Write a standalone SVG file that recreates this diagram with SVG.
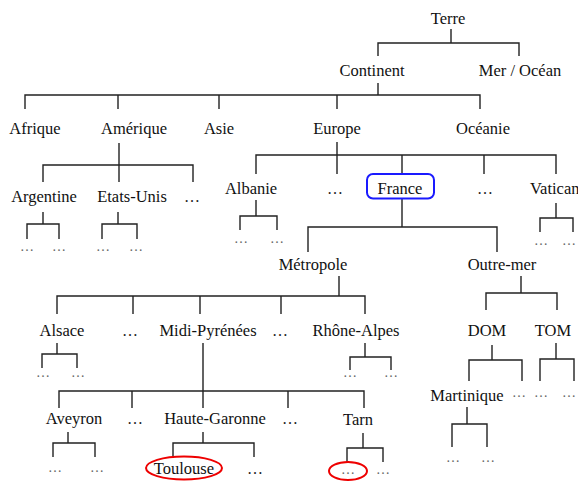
<svg xmlns="http://www.w3.org/2000/svg" width="578" height="483" viewBox="0 0 578 483">
<style>
.c{fill:none;stroke:#222;stroke-width:1.4}
.t{font-family:"Liberation Serif","Times New Roman",serif;font-size:16.5px;fill:#111;text-anchor:middle}
.d{font-family:"Liberation Serif","Times New Roman",serif;font-size:14px;fill:#666;text-anchor:middle}
.e{font-family:"Liberation Serif","Times New Roman",serif;font-size:16px;fill:#222;text-anchor:middle}
</style>
<rect width="578" height="483" fill="#fff"/>
<g id="connectors">
<path class="c" d="M451,29V43M378,56V43H519V56"/>
<path class="c" d="M378,83V95M25,109V95H480V109M118,95V109M219,95V109M337,95V109"/>
<path class="c" d="M119,143V182M43,182V165H193V182"/>
<path class="c" d="M43,212V224M27,239V224H59V239"/>
<path class="c" d="M118,212V224M102,239V224H137V239"/>
<path class="c" d="M337,142V174M256,174V155H556V174M402,155V174M484,155V174"/>
<path class="c" d="M256,200V216M240,230V216H277V230"/>
<path class="c" d="M556,203V218M540,232V218H573V232"/>
<path class="c" d="M402,199V227M308,252V227H497V252"/>
<path class="c" d="M339,276V296M57,314V296H365V314M133,296V314M200,296V314M281,296V314"/>
<path class="c" d="M57,343V354M42,368V354H77V368"/>
<path class="c" d="M365,343V357M350,370V357H391V370"/>
<path class="c" d="M521,276V293M486,310V293H557V310"/>
<path class="c" d="M492,345V360M469,381V360H522V381"/>
<path class="c" d="M556,343V359M540,381V359H574V381"/>
<path class="c" d="M467,407V424M452,447V424H487V447"/>
<path class="c" d="M203,343V408M59,408V391H364V408M132,391V408M288,391V408"/>
<path class="c" d="M68,432V443M53,457V443H95V457"/>
<path class="c" d="M203,432V443M173,457V443H254V457"/>
<path class="c" d="M363,433V448M347,462V448H383V462"/>
</g>
<g id="terre"><text class="t" x="448" y="24">Terre</text></g>
<g id="continent"><text class="t" x="372" y="76">Continent</text></g>
<g id="mer"><text class="t" x="520" y="76">Mer / Océan</text></g>
<g id="afrique"><text class="t" x="35" y="134">Afrique</text></g>
<g id="amerique"><text class="t" x="134" y="134">Amérique</text></g>
<g id="asie"><text class="t" x="219" y="134">Asie</text></g>
<g id="europe"><text class="t" x="337" y="134">Europe</text></g>
<g id="oceanie"><text class="t" x="483" y="134">Océanie</text></g>
<g id="argentine"><text class="t" x="44" y="202">Argentine</text></g>
<g id="etatsunis"><text class="t" x="132" y="202">Etats-Unis</text></g>
<g id="amerique-etc"><text class="e" x="192" y="202">…</text></g>
<g id="arg-1"><text class="d" x="27" y="251">…</text></g>
<g id="arg-2"><text class="d" x="59" y="251">…</text></g>
<g id="eu-1"><text class="d" x="103" y="251">…</text></g>
<g id="eu-2"><text class="d" x="136" y="251">…</text></g>
<g id="albanie"><text class="t" x="251" y="194">Albanie</text></g>
<g id="europe-etc1"><text class="e" x="335" y="194">…</text></g>
<g id="france"><rect x="367" y="174" width="67" height="24.5" rx="6" fill="none" stroke="#1a1aff" stroke-width="2"/><text class="t" x="400" y="194">France</text></g>
<g id="europe-etc2"><text class="e" x="485" y="194">…</text></g>
<g id="vatican"><text class="t" x="530" y="194" style="text-anchor:start">Vatican</text></g>
<g id="alb-1"><text class="d" x="241" y="243">…</text></g>
<g id="alb-2"><text class="d" x="277" y="243">…</text></g>
<g id="vat-1"><text class="d" x="541" y="245">…</text></g>
<g id="vat-2"><text class="d" x="569" y="245">…</text></g>
<g id="metropole"><text class="t" x="313" y="270">Métropole</text></g>
<g id="outremer"><text class="t" x="502" y="270">Outre-mer</text></g>
<g id="alsace"><text class="t" x="62" y="336">Alsace</text></g>
<g id="metro-etc1"><text class="e" x="130" y="336">…</text></g>
<g id="midipyrenees"><text class="t" x="208" y="336">Midi-Pyrénées</text></g>
<g id="metro-etc2"><text class="e" x="280" y="336">…</text></g>
<g id="rhonealpes"><text class="t" x="356" y="336">Rhône-Alpes</text></g>
<g id="als-1"><text class="d" x="43" y="377">…</text></g>
<g id="als-2"><text class="d" x="78" y="377">…</text></g>
<g id="rha-1"><text class="d" x="350" y="377">…</text></g>
<g id="rha-2"><text class="d" x="391" y="377">…</text></g>
<g id="dom"><text class="t" x="487" y="336">DOM</text></g>
<g id="tom"><text class="t" x="553" y="336">TOM</text></g>
<g id="martinique"><text class="t" x="467" y="401">Martinique</text></g>
<g id="dom-etc"><text class="d" x="519" y="397">…</text></g>
<g id="tom-1"><text class="d" x="541" y="397">…</text></g>
<g id="tom-2"><text class="d" x="569" y="397">…</text></g>
<g id="mar-1"><text class="d" x="453" y="462">…</text></g>
<g id="mar-2"><text class="d" x="488" y="462">…</text></g>
<g id="aveyron"><text class="t" x="74" y="424">Aveyron</text></g>
<g id="mp-etc1"><text class="e" x="135" y="424">…</text></g>
<g id="hautegaronne"><text class="t" x="215" y="424">Haute-Garonne</text></g>
<g id="mp-etc2"><text class="e" x="290" y="424">…</text></g>
<g id="tarn"><text class="t" x="358" y="425">Tarn</text></g>
<g id="ave-1"><text class="d" x="55" y="472">…</text></g>
<g id="ave-2"><text class="d" x="97" y="472">…</text></g>
<g id="toulouse"><ellipse cx="184" cy="468" rx="38" ry="11.5" fill="none" stroke="#e00" stroke-width="2"/><text class="t" x="184" y="474">Toulouse</text></g>
<g id="hg-etc"><text class="e" x="255" y="474">…</text></g>
<g id="tarn-1"><ellipse cx="348" cy="471" rx="19" ry="9" fill="none" stroke="#e00" stroke-width="2"/><text class="d" x="348" y="474">…</text></g>
<g id="tarn-2"><text class="d" x="383" y="474">…</text></g>
</svg>
